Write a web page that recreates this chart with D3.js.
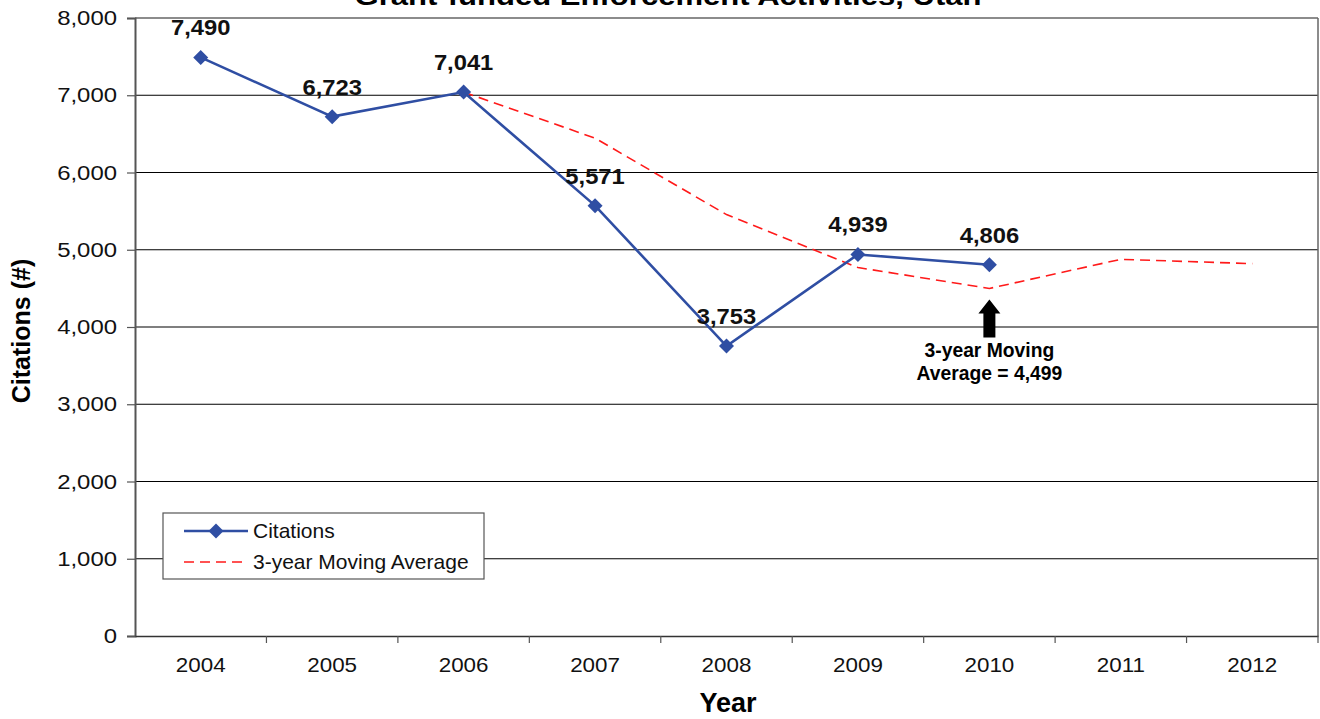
<!DOCTYPE html>
<html><head><meta charset="utf-8">
<script src="https://cdn.jsdelivr.net/npm/d3@7"></script>
<style>
html,body{margin:0;padding:0;background:#fff;}
svg text{font-family:"Liberation Sans",Arial,Helvetica,sans-serif;}
</style></head>
<body><svg id="c" width="1320" height="719"></svg>
<script>
const years = ["2004","2005","2006","2007","2008","2009","2010","2011","2012"];
const citations = [7490, 6723, 7041, 5571, 3753, 4939, 4806];
const movingAvgYears = ["2006","2007","2008","2009","2010","2011","2012"];
const movingAvg = [7041, 6445, 5455, 4770, 4499, 4876, 4820];
const yTicks = [0,1000,2000,3000,4000,5000,6000,7000,8000];
const titleText = "Grant-funded Enforcement Activities, Utah";
const annotation = ["3-year Moving", "Average = 4,499"];

const svg = d3.select("#c");
const L = 135, R = 1318, T = 18, B = 636;
const x = d3.scaleBand().domain(years).range([L, R]);
const y = d3.scaleLinear().domain([0, 8000]).range([B, T]);
const cx = d => x(d) + x.bandwidth()/2;
const fmt = d3.format(",");

// title (top is cut off in the reference as well)
svg.append("text").attr("x", 668).attr("y", 5).attr("text-anchor","middle")
  .attr("font-weight","bold").attr("font-size", 26).attr("textLength", 627)
  .attr("lengthAdjust","spacingAndGlyphs").text(titleText);

// gridlines
svg.append("g").selectAll("line").data(yTicks.filter(d => d > 0 && d < 8000)).join("line")
  .attr("x1", L).attr("x2", R).attr("y1", d => y(d)).attr("y2", d => y(d))
  .attr("stroke", "#000").attr("stroke-width", 1.2);
svg.append("line").attr("x1", L).attr("x2", R).attr("y1", y(8000)).attr("y2", y(8000)).attr("stroke","#666").attr("stroke-width",1.5);
svg.append("line").attr("x1", R).attr("x2", R).attr("y1", T).attr("y2", B).attr("stroke","#666").attr("stroke-width",1.5);

// y axis
const ya = svg.append("g").attr("transform", `translate(${L},0)`)
  .call(d3.axisLeft(y).tickValues(yTicks).tickFormat(fmt).tickSize(8).tickPadding(10));
ya.select(".domain").attr("stroke","#555").attr("stroke-width",2);
ya.selectAll(".tick line").attr("stroke","#555").attr("stroke-width",1.2);
ya.selectAll(".tick text").attr("font-size", 21).attr("fill","#111")
  .attr("font-family","'Liberation Sans',Arial,sans-serif")
  .attr("transform","scale(1.14,1)").attr("x", -18/1.14);

// x axis
const xa = svg.append("g").attr("transform", `translate(0,${B})`)
  .call(d3.axisBottom(x).tickSize(0).tickPadding(22));
xa.select(".domain").attr("stroke","#333").attr("stroke-width",1.5);
xa.selectAll(".tick text").attr("font-size", 20).attr("fill","#111")
  .attr("font-family","'Liberation Sans',Arial,sans-serif")
  .attr("transform","scale(1.12,1)");
svg.append("g").selectAll("line").data(years.slice(1).concat(["end"])).join("line")
  .attr("x1", d => d === "end" ? R : x(d)).attr("x2", d => d === "end" ? R : x(d))
  .attr("y1", B).attr("y2", B + 7).attr("stroke","#555").attr("stroke-width",1.2);

// axis titles
svg.append("text").attr("transform", "translate(30,331) rotate(-90)").attr("text-anchor","middle")
  .attr("font-weight","bold").attr("font-size", 25).text("Citations (#)");
svg.append("text").attr("x", 728).attr("y", 712).attr("text-anchor","middle")
  .attr("font-weight","bold").attr("font-size", 27).text("Year");

// moving average
const maData = movingAvgYears.map((d,i) => ({yr: d, v: movingAvg[i]}));
svg.append("path").datum(maData)
  .attr("d", d3.line().x(d => cx(d.yr)).y(d => y(d.v)))
  .attr("fill","none").attr("stroke","#ff1a1a").attr("stroke-width",1.6)
  .attr("stroke-dasharray","10,6");

// citations
const cData = citations.map((v,i) => ({yr: years[i], v}));
const blue = "#2f4ea3";
svg.append("path").datum(cData)
  .attr("d", d3.line().x(d => cx(d.yr)).y(d => y(d.v)))
  .attr("fill","none").attr("stroke", blue).attr("stroke-width",2.6);
const diamond = "M0,-7.5L7.5,0L0,7.5L-7.5,0Z";
svg.append("g").selectAll("path").data(cData).join("path")
  .attr("transform", d => `translate(${cx(d.yr)},${y(d.v)})`)
  .attr("d", diamond).attr("fill", blue);
svg.append("g").selectAll("text").data(cData).join("text")
  .attr("transform", d => `translate(${cx(d.yr)},${y(d.v) - 22}) scale(1.08,1)`)
  .attr("text-anchor","middle").attr("font-weight","bold").attr("font-size",22)
  .attr("fill","#111").text(d => fmt(d.v));

// annotation arrow
const ax = cx("2010");
const tipY = y(4499) + 11;
svg.append("path")
  .attr("d", `M${ax},${tipY} L${ax+11},${tipY+14} L${ax+6},${tipY+14} L${ax+6},${tipY+38} L${ax-6},${tipY+38} L${ax-6},${tipY+14} L${ax-11},${tipY+14} Z`)
  .attr("fill","#000");
annotation.forEach((t,i) => {
  svg.append("text").attr("transform", `translate(${ax},${357 + i*23}) scale(0.92,1)`)
    .attr("text-anchor","middle").attr("font-weight","bold").attr("font-size",21)
    .attr("fill","#000").text(t);
});

// legend
const lg = svg.append("g");
lg.append("rect").attr("x",163).attr("y",513).attr("width",321).attr("height",66)
  .attr("fill","#fff").attr("stroke","#555").attr("stroke-width",1.2);
lg.append("line").attr("x1",184).attr("x2",248).attr("y1",531).attr("y2",531)
  .attr("stroke",blue).attr("stroke-width",2.6);
lg.append("path").attr("transform","translate(216,531)").attr("d",diamond).attr("fill",blue);
lg.append("line").attr("x1",184).attr("x2",248).attr("y1",562).attr("y2",562)
  .attr("stroke","#ff1a1a").attr("stroke-width",1.6).attr("stroke-dasharray","10,6");
lg.append("text").attr("x",253).attr("y",538).attr("font-size",21).attr("fill","#111").text("Citations");
lg.append("text").attr("x",253).attr("y",569).attr("font-size",21).attr("fill","#111").text("3-year Moving Average");
</script></body></html>
